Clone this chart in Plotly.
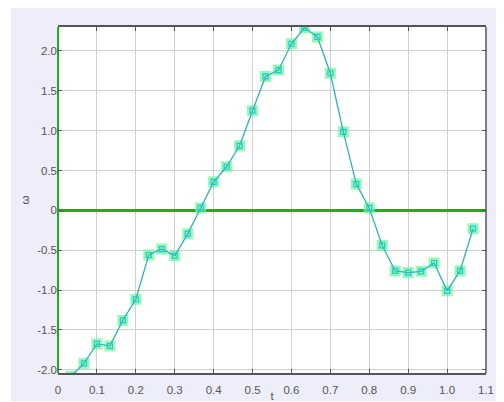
import plotly.graph_objects as go

t = [0.0333, 0.0667, 0.1, 0.1333, 0.1667, 0.2, 0.2333, 0.2667, 0.3, 0.3333,
     0.3667, 0.4, 0.4333, 0.4667, 0.5, 0.5333, 0.5667, 0.6, 0.6333, 0.6667,
     0.7, 0.7333, 0.7667, 0.8, 0.8333, 0.8667, 0.9, 0.9333, 0.9667, 1.0,
     1.0333, 1.0667]
omega = [-2.08, -1.92, -1.675, -1.70, -1.38, -1.115, -0.56, -0.485, -0.57, -0.295,
         0.03, 0.357, 0.547, 0.81, 1.25, 1.68, 1.76, 2.09, 2.29, 2.175,
         1.72, 0.985, 0.33, 0.03, -0.44, -0.76, -0.78, -0.765, -0.66, -1.01,
         -0.76, -0.23]

x_tickvals = [0, 0.1, 0.2, 0.3, 0.4, 0.5, 0.6, 0.7, 0.8, 0.9, 1.0, 1.1]
x_ticktext = ["0", "0.1", "0.2", "0.3", "0.4", "0.5", "0.6", "0.7", "0.8", "0.9", "1.0", "1.1"]
y_tickvals = [2.0, 1.5, 1.0, 0.5, 0, -0.5, -1.0, -1.5, -2.0]
y_ticktext = ["2.0", "1.5", "1.0", "0.5", "0", "-0.5", "-1.0", "-1.5", "-2.0"]

fig = go.Figure()
fig.add_trace(go.Scatter(
    x=t, y=omega, mode="markers",
    marker=dict(symbol="square", size=11, color="rgba(115,245,155,0.75)", line=dict(width=0)),
    hoverinfo="skip", showlegend=False))
fig.add_trace(go.Scatter(
    x=t, y=omega, mode="lines+markers",
    line=dict(color="#30B4B4", width=1.3),
    marker=dict(symbol="square-open", size=5, color="#20C8DC", line=dict(width=1.2)),
    showlegend=False))

# lavender frame background and white plotting area
fig.add_shape(type="rect", xref="paper", yref="paper",
              x0=-0.1098, x1=1.0374, y0=-0.0809, y1=1.08,
              fillcolor="#EEEEFB", line=dict(width=0), layer="below")
fig.add_shape(type="rect", xref="paper", yref="paper",
              x0=0, x1=1, y0=0, y1=1,
              fillcolor="white", line=dict(width=0), layer="below")
fig.add_shape(type="line", xref="paper", yref="paper",
              x0=1, x1=1, y0=0, y1=1, line=dict(color="#555555", width=1.5))

axis_font = dict(family="Liberation Sans, Arial, sans-serif", size=11.5, color="#555555")
fig.update_layout(
    width=496, height=394,
    margin=dict(l=50, r=18, t=19, b=29),
    paper_bgcolor="white", plot_bgcolor="white",
    font=axis_font,
    xaxis=dict(range=[0, 1.1], tickvals=x_tickvals, ticktext=x_ticktext,
               automargin=False, ticklabelstandoff=5,
               showgrid=True, gridcolor="#D0D0D0", gridwidth=1.2,
               showline=True, linecolor="#555555", linewidth=1.5, mirror="ticks",
               ticks="inside", ticklen=4, tickcolor="#555555",
               zeroline=True, zerolinecolor="#22AA22", zerolinewidth=1.5,
               title=dict(text="t", standoff=2, font=axis_font),
               tickfont=axis_font),
    yaxis=dict(range=[-2.04, 2.30], tickvals=y_tickvals, ticktext=y_ticktext,
               automargin=False,
               showgrid=True, gridcolor="#D0D0D0", gridwidth=1.2,
               showline=False, mirror="ticks",
               ticks="inside", ticklen=4, tickcolor="#555555",
               zeroline=True, zerolinecolor="#22AA22", zerolinewidth=2.5,
               title=dict(text="ω", standoff=5, font=axis_font),
               tickfont=axis_font),
)

fig.write_html("out.html")
